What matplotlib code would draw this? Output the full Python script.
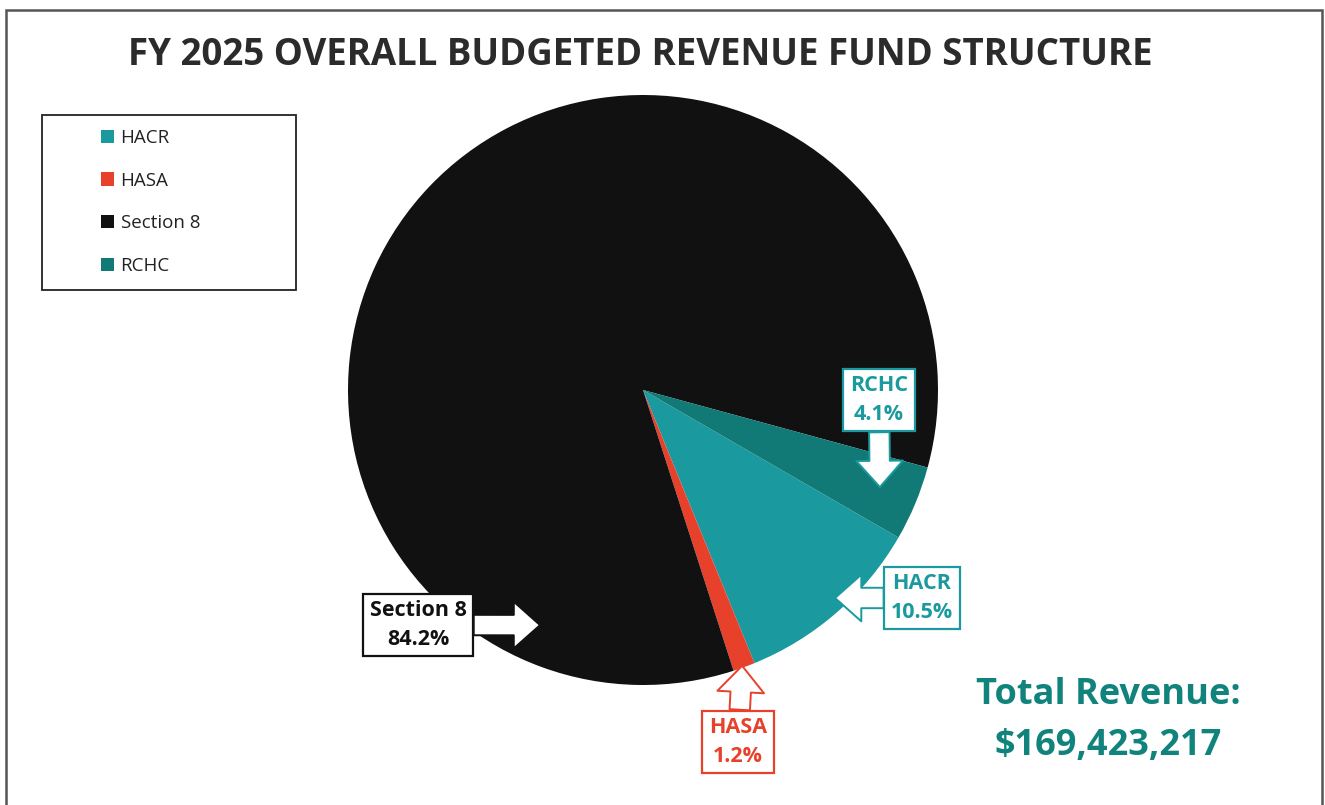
import matplotlib
matplotlib.use('Agg')
import matplotlib.pyplot as plt
from matplotlib.patches import Rectangle

# FY 2025 budgeted revenue by fund
funds = ['HACR', 'HASA', 'Section 8', 'RCHC']
shares = [10.5, 1.2, 84.2, 4.1]
colors = ['#1a9a9e', '#e8412b', '#111111', '#127a76']
total_revenue = '$169,423,217'
title = 'FY 2025 OVERALL BUDGETED REVENUE FUND STRUCTURE'

plt.rcParams['font.family'] = ['Open Sans', 'DejaVu Sans']

W, H = 1325, 805
fig = plt.figure(figsize=(W / 100, H / 100), dpi=100)

# pie axes: centre ~ (643, 390) px, radius ~295 px
ax = fig.add_axes([348 / W, (H - 685) / H, 590 / W, 590 / H])
wedges, _ = ax.pie(shares, colors=colors, startangle=-30, counterclock=False,
                   radius=1, wedgeprops={'linewidth': 0})
ax.set_xlim(-1, 1)
ax.set_ylim(-1, 1)
ax.set_aspect('equal')
ax.axis('off')

# callouts: (label, edge colour, arrow tip in pie coords, box centre in px)
callouts = [
    ('Section 8', '#111111', (-0.349, -0.797), (418, 625)),
    ('HASA', '#e8412b', (0.336, -0.935), (738, 742)),
    ('HACR', '#1a9a9e', (0.651, -0.705), (922, 598)),
    ('RCHC', '#1a9a9e', (0.803, -0.329), (879, 400)),
]
for name, col, tip, box in callouts:
    pct = shares[funds.index(name)]
    ax.annotate(f'{name}\n{pct}%', xy=tip, xycoords='data',
                xytext=(box[0], H - box[1]), textcoords='figure pixels',
                ha='center', va='center', fontsize=15.5, fontweight='bold',
                color=col, linespacing=1.5,
                bbox=dict(boxstyle='square,pad=0.3', fc='white', ec=col, lw=1.6),
                arrowprops=dict(arrowstyle='simple,head_length=0.9,head_width=1.6,tail_width=0.7',
                                fc='white', ec=col, lw=1.4, shrinkA=0, shrinkB=0,
                                mutation_scale=21))

fig.text(640 / W, 1 - 55 / H, title, ha='center', va='center',
         fontsize=26.4, fontweight='bold', color='#2b2b2b')

fig.text(1108 / W, 1 - 695 / H, 'Total Revenue:', ha='center', va='center',
         fontsize=26, fontweight='bold', color='#10837d')
fig.text(1108 / W, 1 - 746 / H, total_revenue, ha='center', va='center',
         fontsize=26, fontweight='bold', color='#10837d')

# legend in its own box
leg = fig.legend(wedges, funds, loc='upper left', frameon=False,
                 bbox_to_anchor=(84 / W, 1 - 112 / H), fontsize=13.5,
                 handlelength=0.7, handleheight=0.7, handletextpad=0.35,
                 labelspacing=1.32, labelcolor='#222222')
fig.patches.append(Rectangle((42 / W, 1 - 290 / H), 254 / W, 175 / H,
                             transform=fig.transFigure, fill=False,
                             ec='#222222', lw=1.3))

# outer chart border (runs off the bottom)
fig.patches.append(Rectangle((6 / W, -0.05), 1316 / W, 1.05 - 10 / H,
                             transform=fig.transFigure, fill=False,
                             ec='#555555', lw=1.8))

fig.savefig('out.png', dpi=100, facecolor='white')
